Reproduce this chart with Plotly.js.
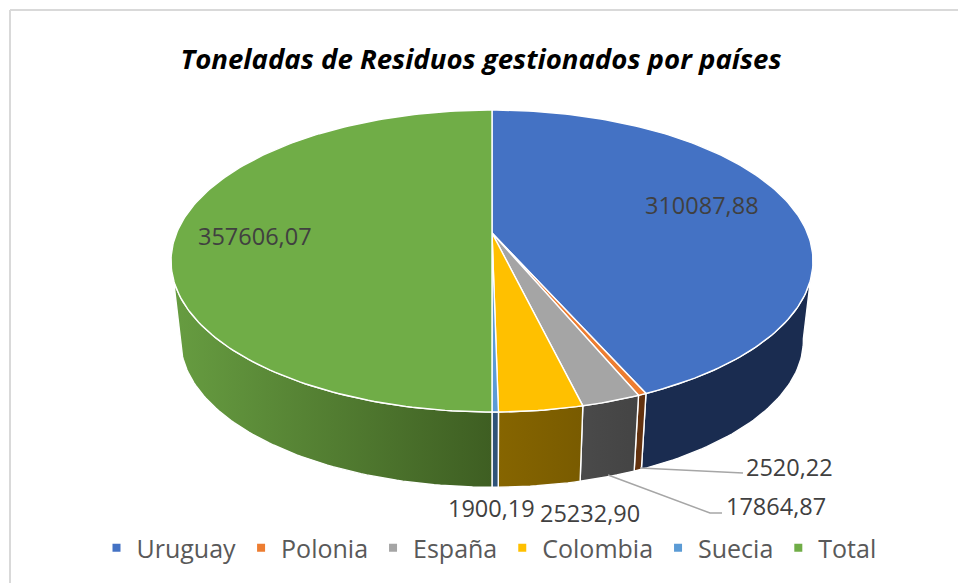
<!DOCTYPE html>
<html>
<head>
<meta charset="utf-8">
<script src="https://cdn.plot.ly/plotly-3.0.1.min.js"></script>
<style>html,body{margin:0;padding:0;background:#fff}#chart{width:958px;height:583px}</style>
</head>
<body>
<div id="chart"></div>
<script>
var categories = ["Uruguay", "Polonia", "España", "Colombia", "Suecia", "Total"];
var values = [310087.88, 2520.22, 17864.87, 25232.90, 1900.19, 357606.07];
var topColors = ["#4472C4", "#ED7D31", "#A5A5A5", "#FFC000", "#5B9BD5", "#70AD47"];
var wallScales = [
  [[0, "#1A2C50"], [1, "#1A2C50"]],
  [[0, "#63320F"], [1, "#63320F"]],
  [[0, "#4A4A4A"], [1, "#444444"]],
  [[0, "#866500"], [1, "#795B00"]],
  [[0, "#2F5378"], [1, "#2F5378"]],
  [[0, "#679D41"], [1, "#3E5E22"]]
];
var labelX = [702, 789, 776, 590, 491, 255];
var labelY = [205, 467, 506, 513, 508, 236];
var leaderXs = [[640, 743], [608, 710, 722]];
var leaderYs = [[468, 473], [475, 513, 513]];
var titleText = "Toneladas de Residuos gestionados por países";

// Projection of the tilted disc (perspective, as in the source 3-D pie)
var k = 0.1854;
var cx = 492;
var topRim = {a: 315.4, h: 145.8, y: 233};
var botRim = {a: 306, h: 142, y: 313};
function proj(rim, deg) {
  var t = deg * Math.PI / 180, u = Math.sin(t), v = Math.cos(t), w = 1 + k * v;
  return [cx + rim.a * u / w, rim.y - rim.h * v / w];
}
function arc(rim, a0, a1) {
  var n = Math.max(2, Math.ceil(Math.abs(a1 - a0))), pts = [];
  for (var i = 0; i <= n; i++) pts.push(proj(rim, a0 + (a1 - a0) * i / n));
  return pts;
}
var total = values.reduce(function (a, b) { return a + b; }, 0);
var traces = [], tops = [], annotations = [];
var cum = 0;
values.forEach(function (val, i) {
  var a0 = cum / total * 360;
  cum += val;
  var a1 = cum / total * 360;
  // wall (front part only)
  var w0 = Math.max(a0, 100), w1 = Math.min(a1, 260);
  if (w1 > w0) {
    var pts = arc(topRim, w0, w1).concat(arc(botRim, w1, w0));
    pts.push(pts[0]);
    traces.push({
      type: "scatter", mode: "lines", showlegend: false, hoverinfo: "skip",
      x: pts.map(function (p) { return p[0]; }),
      y: pts.map(function (p) { return p[1]; }),
      fill: "toself",
      fillgradient: {type: "horizontal", colorscale: wallScales[i]},
      line: {color: "#ffffff", width: 1.4}
    });
  }
  // top face
  var tp = [[cx, topRim.y]].concat(arc(topRim, a0, a1));
  tp.push([cx, topRim.y]);
  tops.push({
    type: "scatter", mode: "lines", showlegend: false, hoverinfo: "skip",
    x: tp.map(function (p) { return p[0]; }),
    y: tp.map(function (p) { return p[1]; }),
    fill: "toself", fillcolor: topColors[i],
    line: {color: "#ffffff", width: 1.4}
  });
  annotations.push({
    x: labelX[i], y: labelY[i], xref: "x", yref: "y", showarrow: false,
    xanchor: "center", yanchor: "middle",
    text: val.toFixed(2).replace(".", ","),
    font: {family: "Open Sans, sans-serif", size: 23.5, color: "#404040"}
  });
});
traces = traces.concat(tops);
leaderXs.forEach(function (xs, i) {
  traces.push({
    type: "scatter", mode: "lines", showlegend: false, hoverinfo: "skip",
    x: xs, y: leaderYs[i], line: {color: "#A6A6A6", width: 1.5}
  });
});
categories.forEach(function (c, i) {
  traces.push({
    type: "scatter", mode: "markers", name: c, x: [null], y: [null],
    marker: {symbol: "square", size: 8, color: topColors[i]}
  });
});
var layout = {
  width: 958, height: 583,
  margin: {l: 0, r: 0, t: 0, b: 0},
  paper_bgcolor: "#ffffff", plot_bgcolor: "#ffffff",
  xaxis: {range: [0, 958], visible: false, fixedrange: true},
  yaxis: {range: [583, 0], visible: false, fixedrange: true},
  title: {
    text: "<b><i>" + titleText + "</i></b>",
    x: 481 / 958, xref: "paper", xanchor: "center",
    y: 1 - 59 / 583, yref: "paper", yanchor: "middle",
    font: {family: "Open Sans, sans-serif", size: 27.6, color: "#000000"}
  },
  legend: {
    orientation: "h", x: 489 / 958, xanchor: "center",
    y: 1 - 548 / 583, yanchor: "middle",
    font: {family: "Open Sans, sans-serif", size: 25, color: "#595959"}
  },
  annotations: annotations,
  shapes: [
    {type: "line", xref: "x", yref: "y", x0: 10, x1: 958, y0: 10, y1: 10, line: {color: "#D9D9D9", width: 2}},
    {type: "line", xref: "x", yref: "y", x0: 10, x1: 10, y0: 10, y1: 583, line: {color: "#D9D9D9", width: 2}}
  ]
};
Plotly.newPlot("chart", traces, layout, {displayModeBar: false, staticPlot: true});
</script>
</body>
</html>
